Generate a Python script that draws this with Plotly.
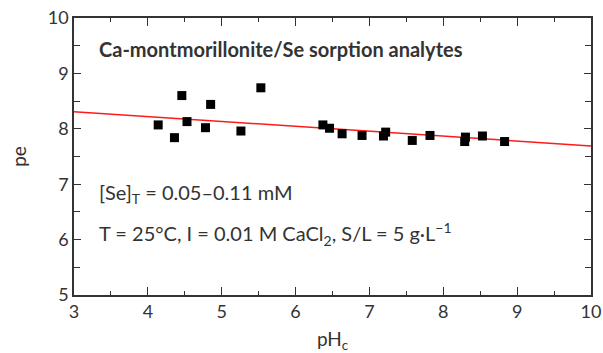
import plotly.graph_objects as go

# Data
ph = [4.14, 4.36, 4.46, 4.53, 4.78, 4.85, 5.26, 5.53,
      6.37, 6.46, 6.63, 6.90, 7.19, 7.22, 7.58, 7.82,
      8.29, 8.30, 8.53, 8.83]
pe = [8.07, 7.84, 8.60, 8.13, 8.02, 8.44, 7.96, 8.74,
      8.07, 8.01, 7.91, 7.88, 7.87, 7.94, 7.79, 7.88,
      7.77, 7.85, 7.87, 7.77]
fit_x = [3, 10]
fit_y = [8.31, 7.69]

x_ticks = [3, 4, 5, 6, 7, 8, 9, 10]
y_ticks = [5, 6, 7, 8, 9, 10]

FONT = "Lato"
AX = "#333333"

fig = go.Figure()
fig.add_trace(go.Scatter(x=fit_x, y=fit_y, mode="lines",
                         line=dict(color="#ff1a1a", width=1.5), showlegend=False))
fig.add_trace(go.Scatter(x=ph, y=pe, mode="markers",
                         marker=dict(symbol="square", size=9, color="black"),
                         showlegend=False))

axis_common = dict(showline=True, linecolor=AX, linewidth=1.5, mirror="ticks",
                   ticks="inside", tickcolor=AX, tickwidth=1.3,
                   showgrid=False, zeroline=False, automargin=False,
                   tickfont=dict(family=FONT, size=18, color=AX))

fig.update_xaxes(range=[3, 10], tickvals=x_ticks, ticklen=8,
                 minor=dict(dtick=0.5, ticks="inside", ticklen=4, tickcolor=AX, tickwidth=1.3),
                 title=dict(text="pH<sub>c</sub>", font=dict(family=FONT, size=19, color=AX), standoff=12),
                 **axis_common)
fig.update_yaxes(range=[5, 10], tickvals=y_ticks, ticklen=7,
                 minor=dict(dtick=0.5, ticks="inside", ticklen=6, tickcolor=AX, tickwidth=1.3),
                 title=dict(text="pe", font=dict(family=FONT, size=19, color=AX), standoff=16),
                 **axis_common)

fig.add_annotation(x=3.31, y=9.44, xref="x", yref="y", xanchor="left", yanchor="middle",
                   text="<b>Ca-montmorillonite/Se sorption analytes</b>", showarrow=False,
                   font=dict(family=FONT, size=20, color=AX))
fig.add_annotation(x=3.31, y=6.84, xref="x", yref="y", xanchor="left", yanchor="middle",
                   text="[Se]<sub>T</sub> = 0.05–0.11 mM", showarrow=False,
                   font=dict(family=FONT, size=20, color=AX))
fig.add_annotation(x=3.31, y=6.10, xref="x", yref="y", xanchor="left", yanchor="middle",
                   text="T = 25°C, I = 0.01 M CaCl<sub>2</sub>, S/L = 5 g·L<sup>−1</sup>", showarrow=False,
                   font=dict(family=FONT, size=20, color=AX))

fig.update_layout(width=603, height=353, margin=dict(l=74, r=12, t=18, b=58),
                  paper_bgcolor="white", plot_bgcolor="white")

fig.write_html("out.html")
